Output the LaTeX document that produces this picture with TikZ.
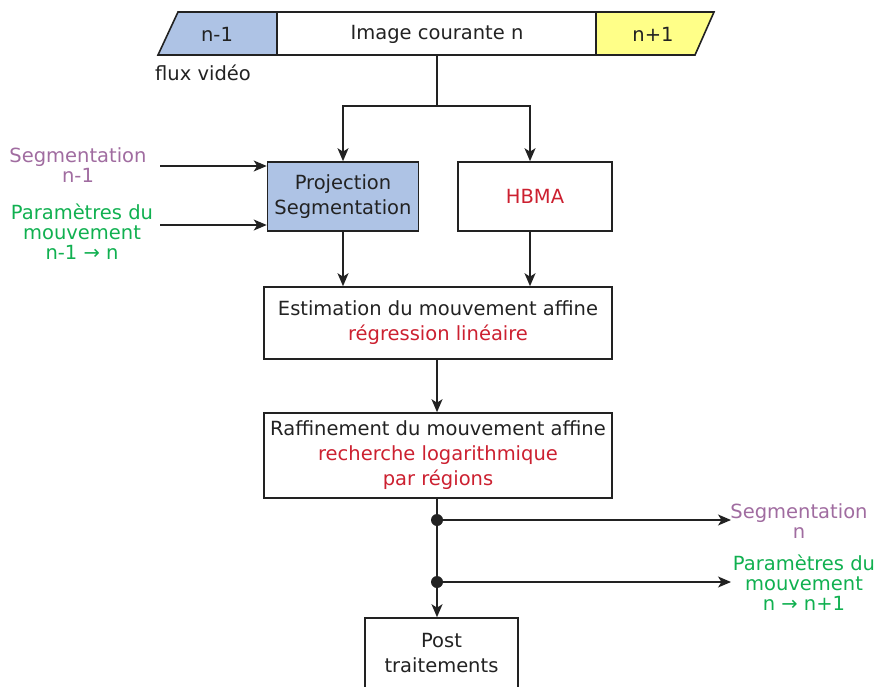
\documentclass[tikz,border=0pt]{standalone}
\usepackage{fontspec}
\setmainfont{DejaVu Sans}
\usetikzlibrary{arrows.meta}
\definecolor{bluefill}{HTML}{AEC3E5}
\definecolor{yellowfill}{HTML}{FFFF88}
\definecolor{segcol}{HTML}{A06CA0}
\definecolor{parcol}{HTML}{10B050}
\definecolor{redtxt}{HTML}{CC2030}
\definecolor{ink}{HTML}{222222}
\begin{document}
\begin{tikzpicture}[x=1pt,y=-1pt,
  line width=1.6pt, draw=ink,
  boxfont/.style={font=\fontsize{19.5}{25}\selectfont},
  lblfont/.style={font=\fontsize{19.5}{20}\selectfont},
  box/.style={draw=ink, line width=1.6pt, align=center, inner sep=0pt, boxfont, text=ink},
  lbl/.style={align=center, inner sep=0pt, lblfont},
  arr/.style={draw=ink, line width=1.6pt, -{Stealth[length=13pt,width=11pt,inset=3.5pt]}},
  dotmark/.style={fill=ink, circle, inner sep=0pt, minimum size=12pt}
]
\useasboundingbox (0,0) rectangle (877,687);

% film strip
\fill[bluefill] (178,12) -- (277,12) -- (277,55) -- (158,55) -- cycle;
\fill[yellowfill] (596,12) -- (714,12) -- (695,55) -- (596,55) -- cycle;
\draw[ink] (178,12) -- (714,12) -- (695,55) -- (158,55) -- cycle;
\draw[ink] (277,12) -- (277,55);
\draw[ink] (596,12) -- (596,55);
\node[boxfont, text=ink] (nm1) at (217,34) {n-1};
\node[boxfont, text=ink] (cur) at (437,34) {Image courante n};
\node[boxfont, text=ink] (np1) at (653,34) {n+1};
\node[boxfont, text=ink] (flux) at (203,73) {flux vidéo};

% boxes
\node[box, fill=bluefill, minimum width=151pt, minimum height=69pt] (proj) at (343,196.5) {Projection\\Segmentation};
\node[box, minimum width=154pt, minimum height=69pt] (hbma) at (535,196.5) {\textcolor{redtxt}{HBMA}};
\node[box, minimum width=348pt, minimum height=72pt] (est) at (438,323) {Estimation du mouvement affine\\\textcolor{redtxt}{régression linéaire}};
\node[box, minimum width=348pt, minimum height=85pt] (raf) at (438,455.5) {Raffinement du mouvement affine\\\textcolor{redtxt}{recherche logarithmique}\\\textcolor{redtxt}{par régions}};
\node[box, minimum width=153pt, minimum height=70pt] (post) at (441.5,653) {Post\\traitements};

% labels
\node[lbl, text=segcol] (segin) at (78,165.5) {Segmentation\\n-1};
\node[lbl, text=parcol] (parin) at (82,232) {Paramètres du\\mouvement\\n-1 → n};
\node[lbl, text=segcol] (segout) at (799,521) {Segmentation\\n};
\node[lbl, text=parcol] (parout) at (804,583) {Paramètres du\\mouvement\\n → n+1};

% connectors
\coordinate (src) at (437,55);
\coordinate (split) at (437,106);
\draw (src) -- (split);
\draw[arr] (split) -| (proj.north);
\draw[arr] (split) -| ([xshift=-5pt]hbma.north);

\coordinate (sin) at (160,166);
\coordinate (pin) at (160,225);
\draw[arr] (sin) -- (sin -| proj.west);
\draw[arr] (pin) -- (pin -| proj.west);

\draw[arr] (proj.south) -- (proj.south |- est.north);
\draw[arr] ([xshift=-5pt]hbma.south) -- ([xshift=-5pt]hbma.south |- est.north);
\draw[arr] ([xshift=-1pt]est.south) -- ([xshift=-1pt]raf.north);

\coordinate (rs) at ([xshift=-1pt]raf.south);
\node[dotmark] (d1) at (rs |- 0,520) {};
\node[dotmark] (d2) at (rs |- 0,582) {};
\coordinate (e1) at (731,520);
\coordinate (e2) at (731,582);
\draw[arr] (rs) -- (rs |- post.north);
\draw[arr] (d1.center) -- (e1);
\draw[arr] (d2.center) -- (e2);
\end{tikzpicture}
\end{document}
